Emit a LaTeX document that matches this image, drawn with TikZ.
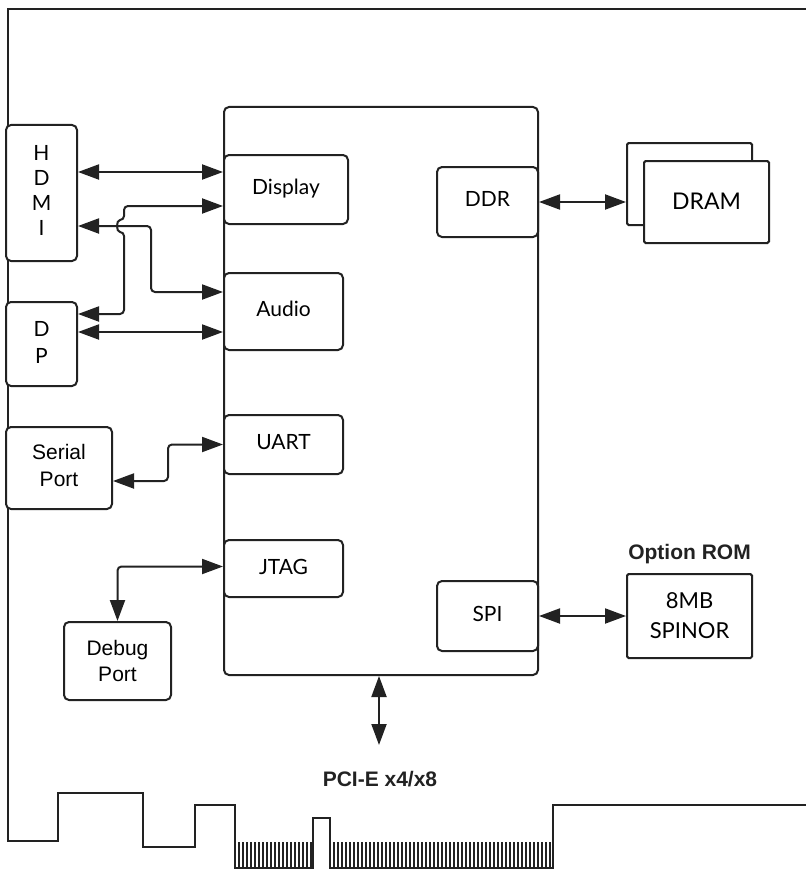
\documentclass[tikz,border=0pt]{standalone}
\usepackage{fontspec}
\setmainfont{Lato}
\newfontfamily\arialfont{Liberation Sans}
\usetikzlibrary{calc,arrows.meta}
\definecolor{inkc}{RGB}{34,34,34}
\tikzset{
  blk/.style={rectangle,rounded corners=2.5pt,draw=inkc,fill=white,line width=1pt,inner sep=0pt,align=center,text depth=3pt,font=\fontsize{10.5}{12.5}\selectfont},
  sqbox/.style={blk,rounded corners=0.8pt,text depth=0pt},
  board/.style={line width=1.1pt,inkc},
  tooth/.style={line width=0.75pt,inkc},
  ttl/.style={font=\arialfont\bfseries\fontsize{10.5}{12.5}\selectfont,text=inkc},
  % bidirectional links, filled heads as in the drawing
  dbl/.style={{Triangle[length=10.5pt,width=7.5pt]}-{Triangle[length=10.5pt,width=7.5pt]},line width=1pt,inkc,rounded corners=2pt},
}
\begin{document}
\begin{tikzpicture}[x=0.5pt,y=-0.5pt]
  \useasboundingbox (0,0) rectangle (806,872);
  % ---- card outline and edge connector ----
  \draw[board] (806,9) -- (8,9) -- (8,841) -- (58,841) -- (58,793) -- (143,793)
    -- (143,847) -- (195,847) -- (195,805) -- (235,805) -- (235,868) -- (313,868)
    -- (313,818) -- (330,818) -- (330,868) -- (553,868) -- (553,805) -- (806,805);
  \foreach \x in {239,243,...,311} \draw[tooth] (\x,842) -- (\x,868);
  \foreach \x in {334,338,...,551} \draw[tooth] (\x,842) -- (\x,868);
  % ---- the controller and its blocks ----
  \node[blk,minimum width=157pt,minimum height=284pt] (chip) at (381,391) {};
  \node[blk,minimum width=62pt,minimum height=34.5pt] (disp) at (286,189.5) {Display};
  \node[blk,minimum width=59.5pt,minimum height=38.5pt] (audio) at (283.5,311.5) {Audio};
  \node[blk,minimum width=59.5pt,minimum height=29.5pt] (uart) at (283.5,444.5) {UART};
  \node[blk,minimum width=59.5pt,minimum height=28.5pt,text depth=2pt] (jtag) at (283.5,568.5) {JTAG};
  \node[blk,minimum width=50.5pt,minimum height=35pt] (ddr) at (487.5,202) {DDR};
  \node[blk,minimum width=50.5pt,minimum height=35pt,text depth=2pt] (spi) at (487.5,616) {SPI};
  % ---- outside ports ----
  \node[blk,minimum width=35.5pt,minimum height=68pt] (hdmi) at (41.5,193) {H\\D\\M\\I};
  \node[blk,minimum width=35.5pt,minimum height=42pt,text depth=2pt,font=\fontsize{10.5}{13.5}\selectfont] (dp) at (41.5,344) {D\\P};
  \node[blk,minimum width=53pt,minimum height=41pt,font=\arialfont\fontsize{10.5}{13.5}\selectfont] (serial) at (59,468) {Serial\\Port};
  \node[blk,minimum width=53.5pt,minimum height=39pt,text depth=0pt,font=\arialfont\fontsize{10.5}{13}\selectfont] (debug) at (117.5,661) {Debug\\Port};
  % ---- memories ----
  \node[sqbox,minimum width=62.5pt,minimum height=41pt] (dramb) at (689.5,184) {};
  \node[sqbox,minimum width=62.5pt,minimum height=41pt,text depth=1pt,font=\fontsize{11.5}{14}\selectfont] (dram) at (706.5,202) {DRAM};
  \node[sqbox,minimum width=62.5pt,minimum height=42pt,font=\fontsize{11}{15}\selectfont] (rom) at (689.5,616) {8MB\\SPINOR};
  \node[ttl] (romttl) at (689.5,554) {Option ROM};
  \node[ttl] (pcittl) at (380,779) {PCI-E x4/x8};
  \coordinate (bus) at (379,745);
  \coordinate (hopb) at (124,232);
  \coordinate (hopt) at (124,220);
  % ---- links ----
  \draw[dbl] ([yshift=10.5pt]hdmi.east) coordinate (h1) -- (h1 -| disp.west);
  \draw[dbl] ([yshift=15pt]dp.east) -| (hopb) .. controls +(-8,0) and +(-8,0) .. (hopt)
    |- ([yshift=-8.25pt]disp.west);
  \draw[dbl] ([yshift=-16.5pt]hdmi.east) -- ++(73,0) |- ([yshift=9.75pt]audio.west);
  \draw[dbl] ([yshift=6pt]dp.east) coordinate (d1) -- (d1 -| audio.west);
  \draw[dbl] ([yshift=-6.5pt]serial.east) -- ++(55,0) |- (uart.west);
  \draw[dbl] ([yshift=1pt]jtag.west) -| (debug.north);
  \draw[dbl] (ddr.east) -- (ddr.east -| dramb.west);
  \draw[dbl] (spi.east) -- (rom.west);
  \draw[dbl] (chip.south -| bus) -- (bus);
\end{tikzpicture}
\end{document}
